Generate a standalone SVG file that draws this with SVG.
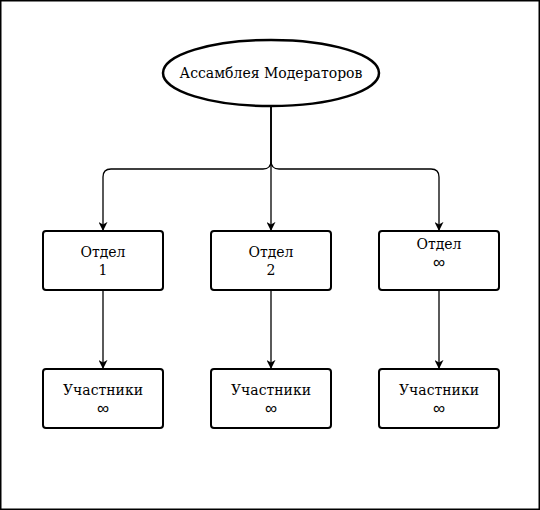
<svg xmlns="http://www.w3.org/2000/svg" width="540" height="510" viewBox="0 0 540 510">
<style>
.frame{fill:#fff;stroke:#000;stroke-width:1.5}
.node{fill:#fff;stroke:#000;stroke-width:2}
.ell{fill:#fff;stroke:#000;stroke-width:2.5}
.edge{fill:none;stroke:#000;stroke-width:1.3;marker-end:url(#arr)}
text{font-family:"DejaVu Serif",serif;font-size:14px;fill:#000;text-anchor:middle}
text.inf{font-family:"Noto Sans",sans-serif;font-size:17px}
</style>
<defs>
<marker id="arr" viewBox="0 0 10 10" refX="9" refY="5" markerWidth="9" markerHeight="9" markerUnits="userSpaceOnUse" orient="auto">
<path d="M0,0 L10,5 L0,10 L3,5 Z" fill="#000"/>
</marker>
</defs>
<rect class="frame" x="0.75" y="0.75" width="538.5" height="508.5"/>
<g id="connectors">
<path class="edge" d="M271,106 V161 Q271,169 263,169 H111 Q103,169 103,177 V230"/>
<path class="edge" d="M271,106 V230"/>
<path class="edge" d="M271,106 V161 Q271,169 279,169 H431 Q439,169 439,177 V230"/>
<path class="edge" d="M103,290 V368"/>
<path class="edge" d="M271,290 V368"/>
<path class="edge" d="M439,290 V368"/>
</g>
<g id="assembly">
<ellipse class="ell" cx="271" cy="73" rx="108" ry="33"/>
<text x="271" y="78">Ассамблея Модераторов</text>
</g>
<g id="dept1">
<rect class="node" x="43" y="231" width="120" height="59" rx="3"/>
<text x="103" y="257">Отдел</text>
<text x="103" y="275">1</text>
</g>
<g id="dept2">
<rect class="node" x="211" y="231" width="120" height="59" rx="3"/>
<text x="271" y="257">Отдел</text>
<text x="271" y="275">2</text>
</g>
<g id="dept3">
<rect class="node" x="379" y="231" width="120" height="59" rx="3"/>
<text x="439" y="249">Отдел</text>
<text class="inf" x="439" y="268">∞</text>
</g>
<g id="part1">
<rect class="node" x="43" y="369" width="120" height="59" rx="3"/>
<text x="103" y="395">Участники</text>
<text class="inf" x="103" y="414">∞</text>
</g>
<g id="part2">
<rect class="node" x="211" y="369" width="120" height="59" rx="3"/>
<text x="271" y="395">Участники</text>
<text class="inf" x="271" y="414">∞</text>
</g>
<g id="part3">
<rect class="node" x="379" y="369" width="120" height="59" rx="3"/>
<text x="439" y="395">Участники</text>
<text class="inf" x="439" y="414">∞</text>
</g>
</svg>
